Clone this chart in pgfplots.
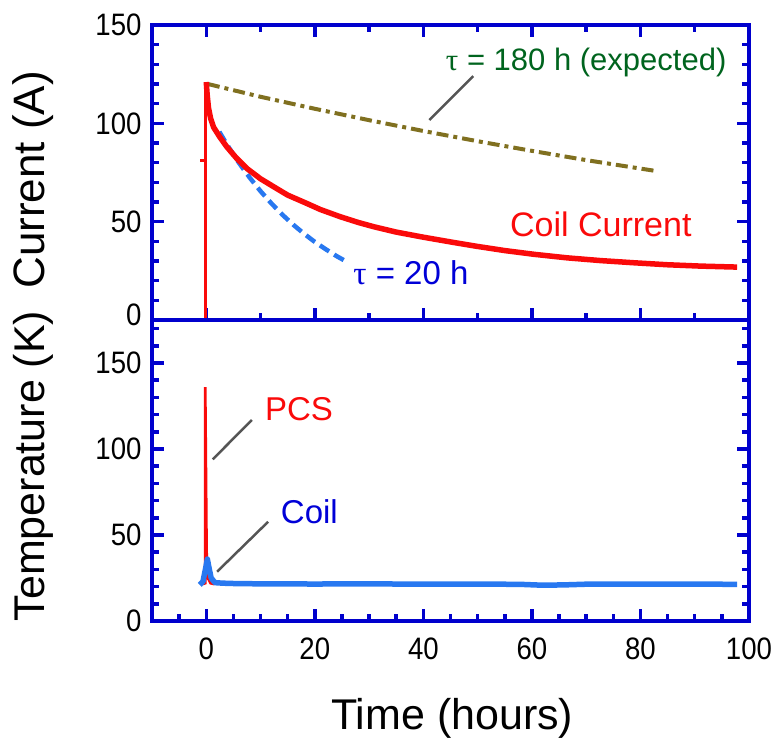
\documentclass[border=0pt]{standalone}
\usepackage{fontspec}
\setmainfont{Liberation Sans}
\newfontfamily\greekfont{Liberation Serif}
\newfontfamily\tickfont{Liberation Sans}[FakeStretch=0.89]
\usepackage{pgfplots}
\pgfplotsset{compat=1.18}
\definecolor{frameblue}{RGB}{0,0,205}
\definecolor{curred}{RGB}{250,10,10}
\definecolor{lblue}{RGB}{40,120,240}
\definecolor{txtblue}{RGB}{0,0,215}
\definecolor{olivec}{RGB}{128,112,32}
\definecolor{dgreen}{RGB}{0,100,30}
\definecolor{leader}{RGB}{85,85,85}
\pgfplotsset{
  panel/.style={
    scale only axis, width=597pt, xmin=-10, xmax=100,
    axis line style={line width=4pt, frameblue},
    tick align=inside,
    major tick length=12pt, minor tick length=7pt,
    tick style={line width=3.5pt, frameblue},
    xtick={0,20,...,100},
    ytick pos=both, yticklabel pos=left,
    tick label style={font=\tickfont\fontsize{31}{34}\selectfont},
    yticklabel style={xshift=-7pt},
    /pgf/number format/assume math mode=true,
    label style={font=\fontsize{43}{48}\selectfont},
  }
}
\begin{document}
\begin{tikzpicture}
\useasboundingbox (0pt,0pt) rectangle (779pt,748pt);
% ---------------- top panel ----------------
\begin{axis}[panel,
  at={(152pt,428pt)}, anchor=south west, height=295pt,
  ymin=0, ymax=150,
  ytick={0,50,100,150},
  yticklabels={\raisebox{11pt}{0},50,100,150},
  minor ytick={10,20,30,40,60,70,80,90,110,120,130,140},
  minor xtick={10,30,50,70,90},
  xticklabels={},
  ylabel={Current (A)},
  ylabel style={at={(axis description cs:-0.199,0.475)}, anchor=center, font=\fontsize{44}{48}\selectfont},
]
% tau = 180 h (expected)
\addplot[olivec, line width=4pt, dash pattern=on 12pt off 5pt on 4pt off 5pt] coordinates {
(0.3,120) (10,113.5) (20,107.4) (30,101.6) (40,96.1) (50,90.9) (60,86.0) (70,81.3) (83,75.7)};
% tau = 20 h
\addplot[lblue, line width=4.5pt, dash pattern=on 11pt off 6pt] coordinates {
(2.4,95.7) (4,88.4) (6,80.0) (8,72.4) (10,65.5) (12,59.3) (14,53.6) (16,48.5) (18,43.9) (20,39.7) (22,36.0) (24,32.5) (25.5,30.2)};
% coil current
\addplot[curred, line width=3.3pt] coordinates {(-0.1,0) (-0.1,121)};
\addplot[curred, line width=2.5pt] coordinates {(-1.1,81) (-0.4,81)};
\addplot[curred, line width=5.5pt, line join=round] coordinates {
(0,121) (0.15,115) (0.4,108) (0.8,102.5) (1.35,98) (2.5,93) (3.8,88) (5.5,82.5) (7.5,77) (10,71.8) (12.4,67.8) (15,63.5) (18.5,59.3) (21,56.2) (24.7,52.5) (28,49.6) (30.9,47.4) (35,44.7) (40,42.1) (45,39.7) (50,37.4) (55,35.3) (60.4,33.4) (66.5,31.6) (72.7,30.2) (78.8,29.1) (84.9,28.1) (91.1,27.4) (97.8,26.9)};
\node[dgreen, font=\fontsize{31}{34}\selectfont] at (axis cs:70.0,130.7) {{\greekfont τ} = 180 h (expected)};
\draw[leader, line width=2.5pt] (axis cs:49.2,124.0) -- (axis cs:41.1,101.7);
\node[curred, font=\fontsize{34}{38}\selectfont] at (axis cs:72.7,48.8) {Coil Current};
\node[txtblue, font=\fontsize{33}{36}\selectfont] at (axis cs:37.7,23.9) {{\greekfont τ} = 20 h};
\end{axis}
% ---------------- bottom panel ----------------
\begin{axis}[panel,
  at={(152pt,127pt)}, anchor=south west, height=301pt,
  ymin=0, ymax=175,
  ytick={0,50,100,150},
  minor ytick={10,20,30,40,60,70,80,90,110,120,130,140,160,170},
  xtick pos=bottom,
  minor xtick={-5,5,10,15,25,30,35,45,50,55,65,70,75,85,90,95},
  xticklabel style={yshift=-13pt},
  xlabel={Time (hours)},
  xlabel style={at={(axis description cs:0.503,-0.325)}, anchor=center},
  ylabel={Temperature (K)},
  ylabel style={at={(axis description cs:-0.199,0.515)}, anchor=center},
]
% PCS
\addplot[curred, line width=2.8pt] coordinates {
(-0.7,21.5) (-0.2,22) (-0.2,136) (0.05,40) (0.3,25) (0.8,22) (1.5,21.5)};
% Coil
\addplot[lblue, line width=5.5pt, line join=round] coordinates {
(-1.2,21) (-0.6,23) (-0.1,31) (0.2,36) (0.5,31) (0.9,25) (1.6,22.3) (3,22) (5,21.8) (10,21.6) (20,21.5) (30,21.6) (40,21.4) (50,21.5) (58,21.3) (62,20.8) (66,21.0) (70,21.4) (80,21.5) (90,21.5) (97.8,21.3)};
\node[curred, font=\fontsize{33}{36}\selectfont] at (axis cs:17.1,123.3) {PCS};
\draw[leader, line width=2.5pt] (axis cs:8.4,116.9) -- (axis cs:1.2,94.0);
\node[txtblue, font=\fontsize{33}{36}\selectfont] at (axis cs:19.0,63.4) {Coil};
\draw[leader, line width=2.5pt] (axis cs:11.4,57.7) -- (axis cs:2.0,28.7);
\end{axis}
\end{tikzpicture}
\end{document}
